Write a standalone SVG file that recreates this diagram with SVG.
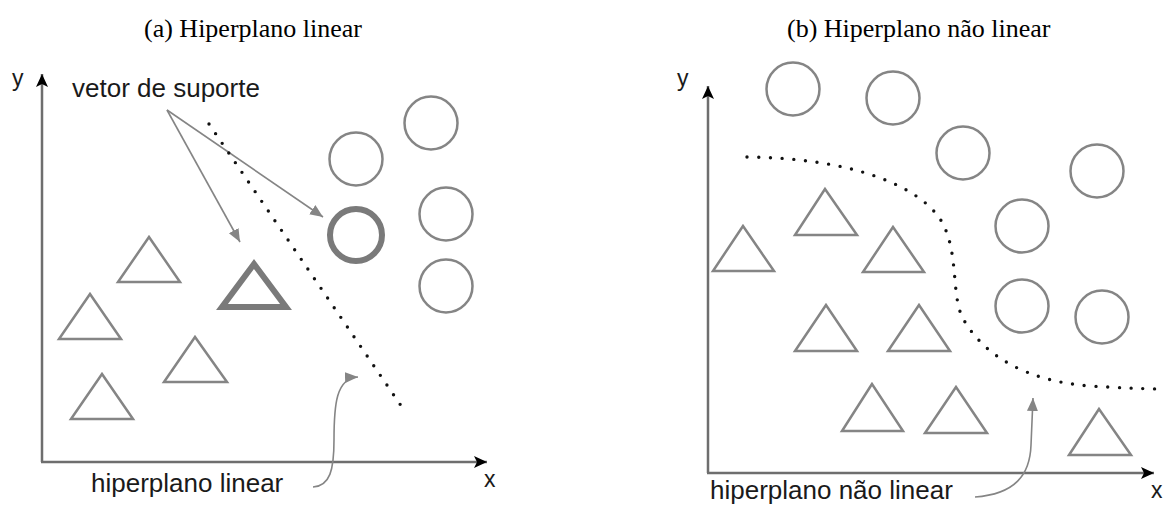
<svg xmlns="http://www.w3.org/2000/svg" width="1169" height="506" viewBox="0 0 1169 506">
<defs>
<style>
.title{font-family:"Liberation Serif","Times New Roman",serif;font-size:26px;fill:#000}
.lbl{font-family:"Liberation Sans",Arial,sans-serif;font-size:26px;fill:#1a1a1a}
.ax{font-family:"Liberation Sans",Arial,sans-serif;font-size:23px;fill:#1a1a1a}
.axis{stroke:#6e6e6e;stroke-width:2.5;fill:none}
.shape{stroke:#858585;stroke-width:2.5;fill:none}
.thick{stroke:#7a7a7a;stroke-width:6;fill:none}
.conn{stroke:#858585;stroke-width:1.6;fill:none}
.dots{stroke:#111;stroke-width:3.4;fill:none;stroke-linecap:round;stroke-dasharray:0 11.7}
</style>
<marker id="ahBlack" markerUnits="userSpaceOnUse" markerWidth="14" markerHeight="14" viewBox="0 0 14 14" refX="13" refY="7" orient="auto">
<path d="M0,1 L13,7 L0,13 L3,7 Z" fill="#000"/>
</marker>
<marker id="ahGray" markerUnits="userSpaceOnUse" markerWidth="14" markerHeight="14" viewBox="0 0 14 14" refX="13" refY="7" orient="auto">
<path d="M0,1.5 L13,7 L0,12.5 Z" fill="#858585"/>
</marker>
</defs>

<text class="title" x="144" y="37">(a) Hiperplano linear</text>
<text class="title" x="787" y="37">(b) Hiperplano não linear</text>

<g id="axes-a">
<line class="axis" x1="42" y1="462" x2="42" y2="74" marker-end="url(#ahBlack)"/>
<line class="axis" x1="41" y1="462" x2="487" y2="462" marker-end="url(#ahBlack)"/>
<text class="ax" x="12" y="86">y</text>
<text class="ax" x="484" y="487">x</text>
</g>

<g id="axes-b">
<line class="axis" x1="708" y1="473" x2="708" y2="86" marker-end="url(#ahBlack)"/>
<line class="axis" x1="707" y1="473" x2="1154" y2="473" marker-end="url(#ahBlack)"/>
<text class="ax" x="677" y="86">y</text>
<text class="ax" x="1151" y="498">x</text>
</g>

<g id="label-vetor"><text class="lbl" x="72" y="97">vetor de suporte</text></g>
<g id="label-hl"><text class="lbl" x="91" y="492">hiperplano linear</text></g>
<g id="label-hnl"><text class="lbl" x="710" y="499">hiperplano não linear</text></g>

<g id="a-circles">
<circle id="a-c1" class="shape" cx="356" cy="159" r="26.5"/>
<circle id="a-c2" class="shape" cx="431" cy="123" r="26.5"/>
<circle id="a-c3" class="shape" cx="446" cy="214" r="26.5"/>
<circle id="a-c4" class="shape" cx="446" cy="286" r="26.5"/>
<circle id="a-sv-circle" class="thick" cx="356" cy="235" r="26"/>
</g>

<g id="a-triangles">
<polygon id="a-t1" class="shape" points="149,237 118,282 180,282"/>
<polygon id="a-t2" class="shape" points="90,294 59,339 121,339"/>
<polygon id="a-sv-triangle" class="thick" points="254,264 222,307 286,307"/>
<polygon id="a-t4" class="shape" points="195,337 164,382 227,382"/>
<polygon id="a-t5" class="shape" points="102,374 71,419 133,419"/>
</g>

<g id="b-circles">
<circle id="b-c1" class="shape" cx="793" cy="89" r="26.5"/>
<circle id="b-c2" class="shape" cx="893" cy="98" r="26.5"/>
<circle id="b-c3" class="shape" cx="963" cy="153" r="26.5"/>
<circle id="b-c4" class="shape" cx="1097" cy="171" r="26.5"/>
<circle id="b-c5" class="shape" cx="1022" cy="226" r="26.5"/>
<circle id="b-c6" class="shape" cx="1022" cy="306" r="26.5"/>
<circle id="b-c7" class="shape" cx="1102" cy="317" r="26.5"/>
</g>

<g id="b-triangles">
<polygon id="b-t1" class="shape" points="743,226 713,271 774,271"/>
<polygon id="b-t2" class="shape" points="825,189 795,235 857,235"/>
<polygon id="b-t3" class="shape" points="893,227 863,272 924,272"/>
<polygon id="b-t4" class="shape" points="826,305 795,351 857,351"/>
<polygon id="b-t5" class="shape" points="919,305 888,351 950,351"/>
<polygon id="b-t6" class="shape" points="872,384 842,431 903,431"/>
<polygon id="b-t7" class="shape" points="956,387 925,433 987,433"/>
<polygon id="b-t8" class="shape" points="1099,409 1069,455 1131,455"/>
</g>

<g id="connectors">
<line class="conn" x1="167" y1="110" x2="240" y2="242" marker-end="url(#ahGray)"/>
<line class="conn" x1="167" y1="110" x2="323" y2="217" marker-end="url(#ahGray)"/>
<path class="conn" d="M313,487 C330,486 334,470 334,440 C334,405 336,378 358,377" marker-end="url(#ahGray)"/>
<path class="conn" d="M975,497 C1015,494 1030,475 1031,445 L1033,398" marker-end="url(#ahGray)"/>
<path class="dots" d="M209,124 L406,413"/>
<path class="dots" d="M747,157 C850,158 920,185 942,222 C960,255 950,300 965,322 C985,355 1025,381 1090,386 C1120,388 1150,389 1165,389"/>
</g>
</svg>
